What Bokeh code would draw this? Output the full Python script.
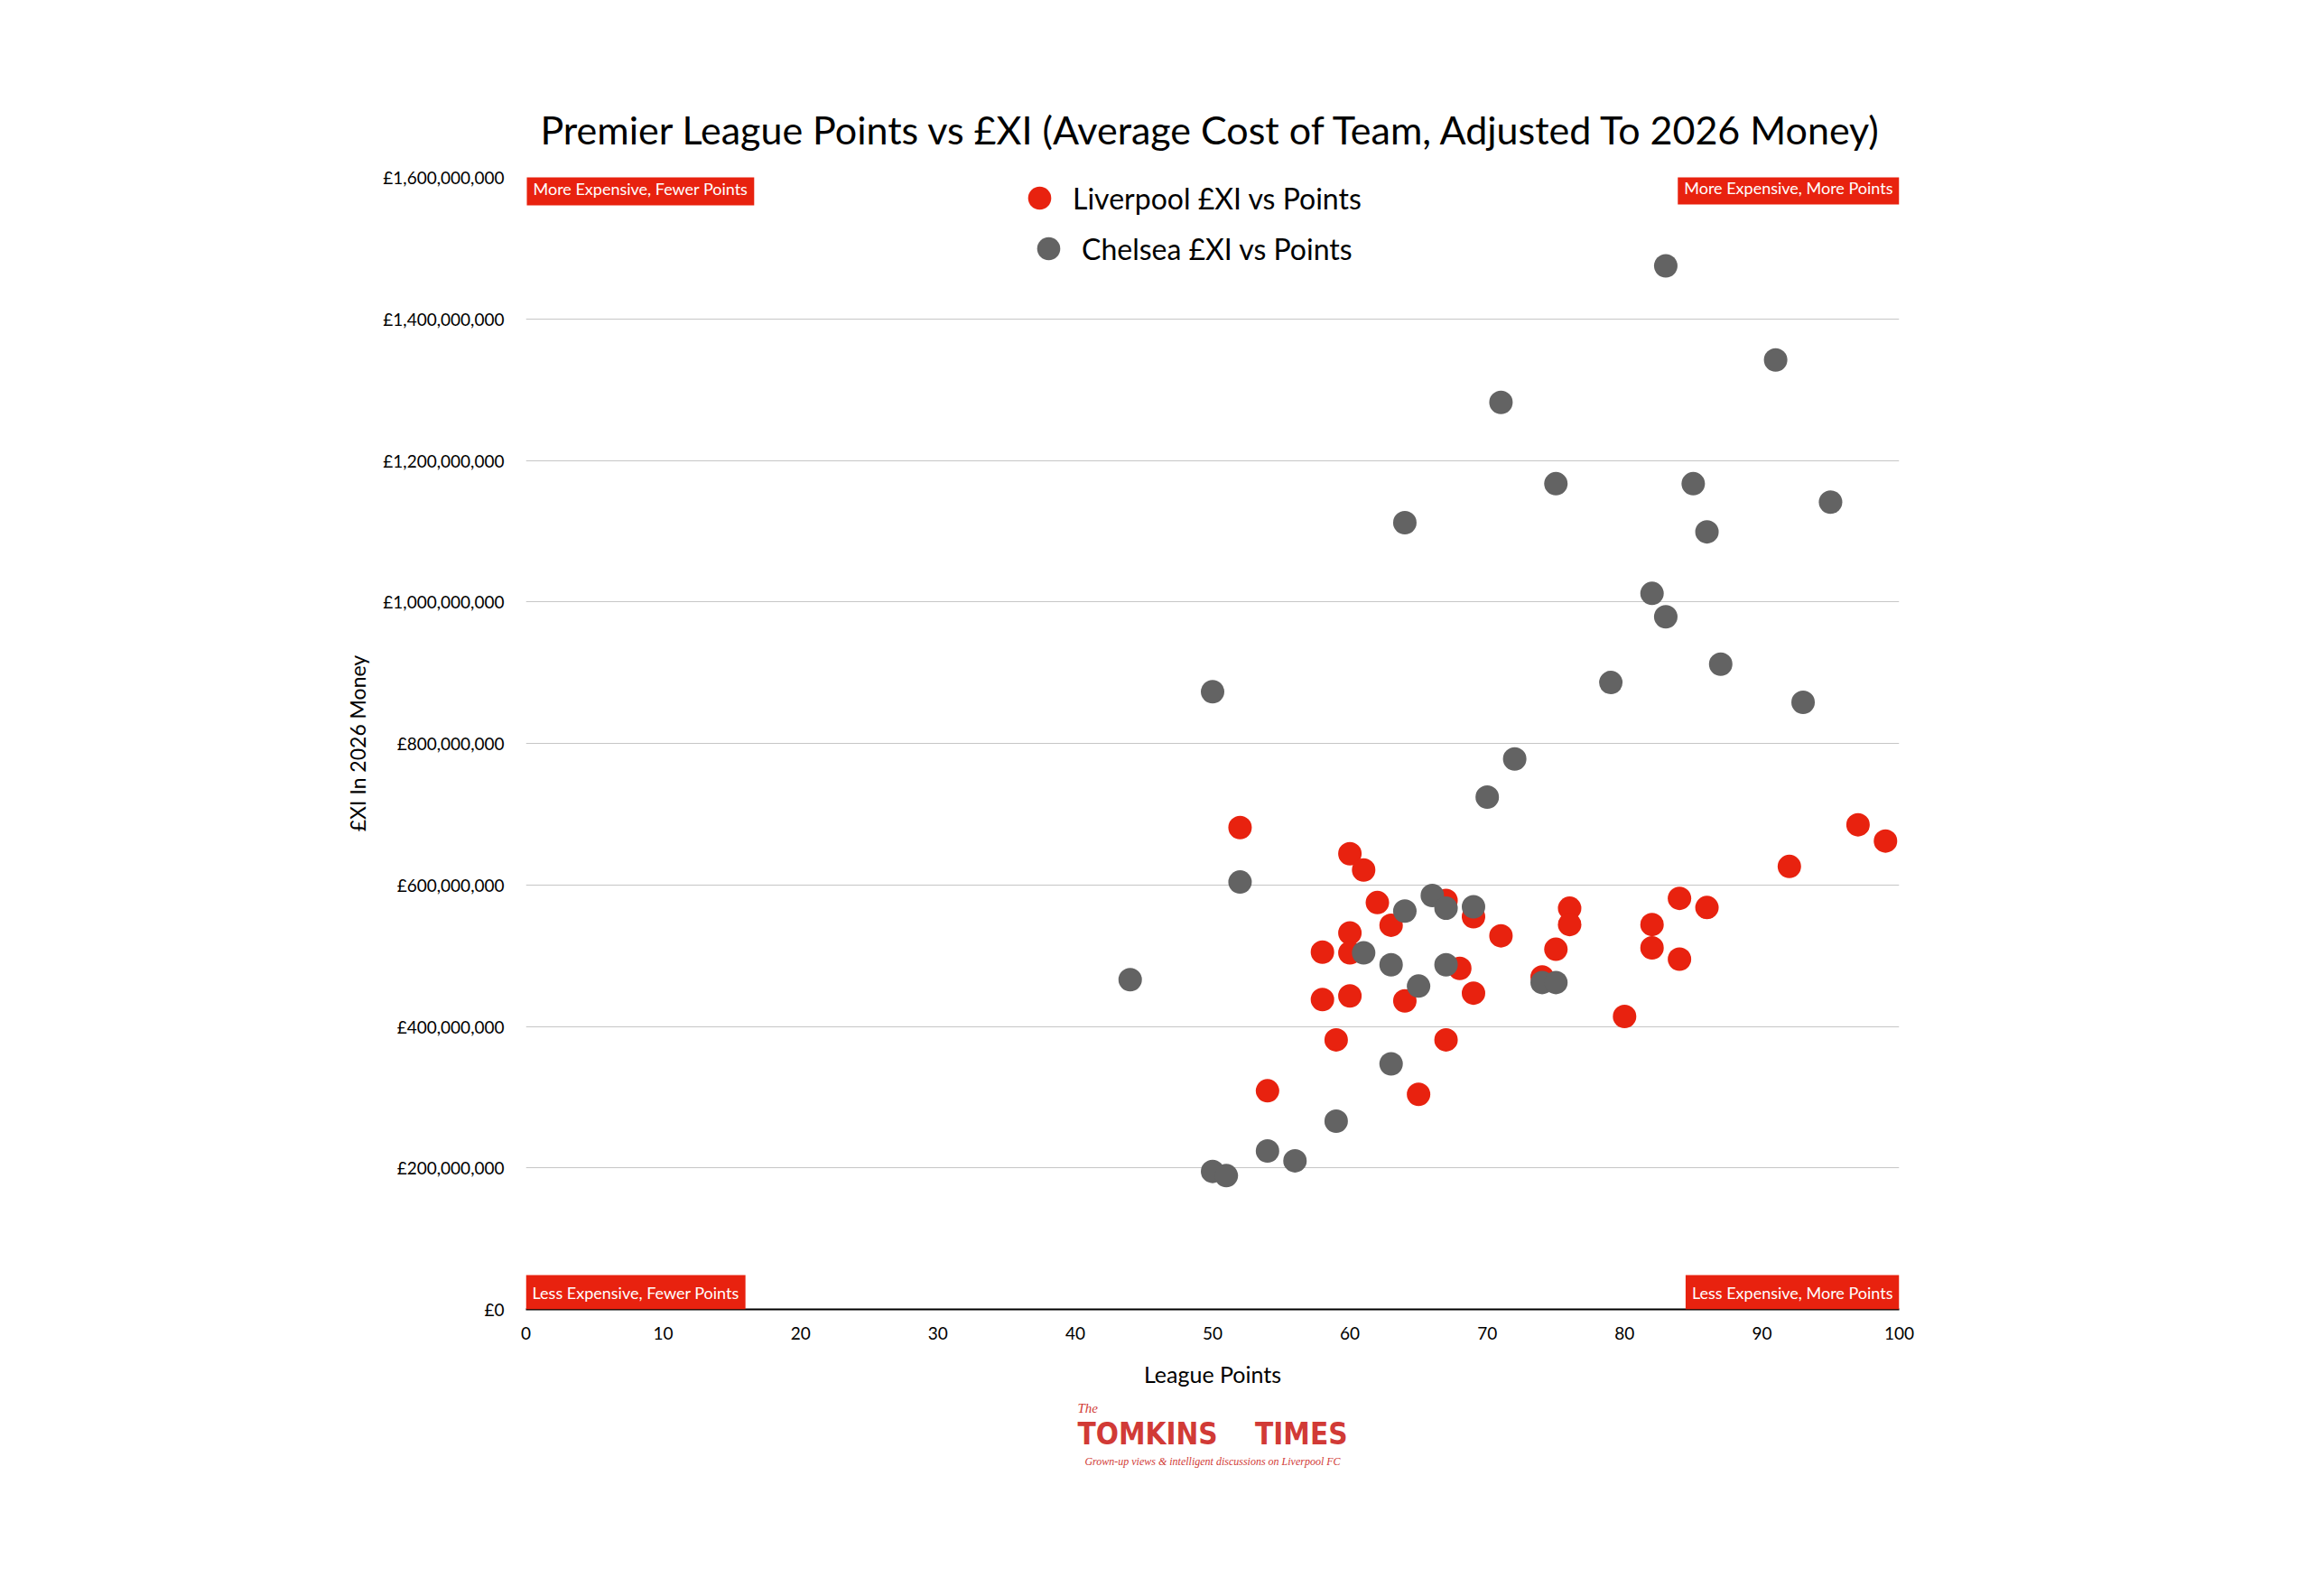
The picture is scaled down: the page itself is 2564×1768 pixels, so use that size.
from bokeh.plotting import figure
from bokeh.models import Label, Legend, LegendItem, Title, ColumnDataSource
from bokeh.embed import file_html
from bokeh.resources import INLINE

# ---------------- data ----------------
TITLE = "Premier League Points vs £XI (Average Cost of Team, Adjusted To 2026 Money)"
X_LABEL = "League Points"
Y_LABEL = "£XI In 2026 Money"

liv_name = "Liverpool £XI vs Points"
liv_points = [52, 60, 61, 62, 63, 60, 58, 60, 58, 60, 64, 59, 54, 65, 67, 67, 69,
              71, 68, 69, 74, 75, 76, 76, 82, 82, 84, 84, 86, 80, 92, 97, 99]
liv_cost_m = [681, 644, 621, 575, 543, 532, 505, 504, 438, 443, 436, 381, 309, 304, 381, 578, 555,
              528, 482, 447, 470, 509, 567, 544, 544, 511, 581, 495, 568, 414, 626, 685, 662]

che_name = "Chelsea £XI vs Points"
che_points = [44, 50, 51, 52, 54, 56, 59, 61, 63, 63, 64, 64, 65, 66, 67, 67, 69,
              70, 71, 72, 74, 75, 75, 79, 82, 83, 83, 85, 86, 87, 91, 93, 95, 50]
che_cost_m = [466, 195, 189, 604, 224, 210, 266, 504, 487, 347, 563, 1112, 457, 585, 567, 487, 569,
              724, 1282, 778, 462, 462, 1167, 886, 1012, 979, 1475, 1167, 1099, 912, 1342, 858, 1141, 873]

x_ticks = [0, 10, 20, 30, 40, 50, 60, 70, 80, 90, 100]
y_ticks = [0, 200000000, 400000000, 600000000, 800000000,
           1000000000, 1200000000, 1400000000, 1600000000]

corner_texts = ["More Expensive, Fewer Points", "More Expensive, More Points",
                "Less Expensive, Fewer Points", "Less Expensive, More Points"]

logo_the = "The"
logo_name = "TOMKINS\u00a0\u00a0\u00a0\u00a0TIMES"
logo_tagline = "Grown-up views & intelligent discussions on Liverpool FC"

# ---------------- style ----------------
RED = "#E8220F"
GREY = "#636363"
LOGO_RED = "#D13A36"
FONT = "Lato"

p = figure(width=2548, height=1750, output_backend="svg", toolbar_location=None,
           x_range=(x_ticks[0], x_ticks[-1]), y_range=(y_ticks[0], y_ticks[-1]),
           min_border_left=582, min_border_right=445, min_border_top=196, min_border_bottom=300,
           title=TITLE)

p.title.text_font = FONT
p.title.text_font_size = "43px"
p.title.text_font_style = "normal"
p.title.text_color = "black"
p.title.align = "center"
p.title.standoff = 55
p.outline_line_color = None
p.background_fill_color = "white"
p.border_fill_color = "white"

p.xgrid.grid_line_color = None
p.ygrid.grid_line_color = "#c6c6c6"
p.ygrid.grid_line_width = 1

p.xaxis.ticker = x_ticks
p.yaxis.ticker = y_ticks
p.yaxis.major_label_overrides = {t: "£{:,}".format(t) for t in y_ticks}

for ax in (p.xaxis[0], p.yaxis[0]):
    ax.major_tick_line_color = None
    ax.minor_tick_line_color = None
    ax.major_label_text_font = FONT
    ax.major_label_text_font_size = "19px"
    ax.major_label_text_color = "black"
    ax.axis_label_text_font = FONT
    ax.axis_label_text_font_style = "normal"
    ax.axis_label_text_color = "black"

p.xaxis.major_label_standoff = 13
p.yaxis.major_label_standoff = 18

p.xaxis.axis_label = X_LABEL
p.xaxis.axis_label_text_font_size = "25px"
p.xaxis.axis_label_standoff = 20
p.xaxis.axis_line_color = "black"
p.xaxis.axis_line_width = 2

p.yaxis.axis_label = Y_LABEL
p.yaxis.axis_label_text_font_size = "23px"
p.yaxis.axis_label_standoff = 11
p.yaxis.axis_line_color = None

src_l = ColumnDataSource(dict(x=liv_points, y=[v * 1e6 for v in liv_cost_m]))
src_c = ColumnDataSource(dict(x=che_points, y=[v * 1e6 for v in che_cost_m]))
r_l = p.scatter("x", "y", source=src_l, size=26, fill_color=RED, line_color=None)
r_c = p.scatter("x", "y", source=src_c, size=26, fill_color=GREY, line_color=None)

# two single-item legends so each line can be centred like the reference
legend_specs = [(liv_name, r_l, (537, 1199)), (che_name, r_c, (547, 1143))]
for name, rend, loc in legend_specs:
    lg = Legend(items=[LegendItem(label=name, renderers=[rend])],
                location=loc, orientation="vertical",
                border_line_color=None, background_fill_alpha=0,
                label_text_font=FONT, label_text_font_size="32px",
                label_text_color="black",
                glyph_width=64, glyph_height=64,
                padding=0, margin=0, label_standoff=5)
    p.add_layout(lg)

corner_specs = [
    dict(x=x_ticks[0], y=y_ticks[-1], text_align="left", text_baseline="top", x_offset=1, y_offset=7),
    dict(x=x_ticks[-1], y=y_ticks[-1], text_align="right", text_baseline="top", x_offset=0, y_offset=8),
    dict(x=x_ticks[0], y=y_ticks[0], text_align="left", text_baseline="bottom", x_offset=0, y_offset=0),
    dict(x=x_ticks[-1], y=y_ticks[0], text_align="right", text_baseline="bottom", x_offset=0, y_offset=0),
]
for txt, spec in zip(corner_texts, corner_specs):
    p.add_layout(Label(text=txt, text_color="white", text_font=FONT, text_font_size="18px",
                       background_fill_color=RED, background_fill_alpha=1.0,
                       padding=dict(left=7, right=7, top=8, bottom=8), **spec))

t_the = Title(text=logo_the, align="left", offset=611, text_font="Liberation Serif",
              text_font_style="italic", text_font_size="15px", text_color=LOGO_RED, standoff=21)
p.add_layout(t_the, "below")
t_name = Title(text=logo_name, align="center", offset=-18,
               text_font="DejaVu Sans Condensed",
               text_font_style="bold", text_font_size="33px", text_color=LOGO_RED, standoff=-24)
p.add_layout(t_name, "below")
t_tag = Title(text=logo_tagline, align="center", offset=3, text_font="Liberation Serif",
              text_font_style="italic", text_font_size="12px", text_color=LOGO_RED, standoff=28)
p.add_layout(t_tag, "below")

open("out.html", "w").write(file_html(p, INLINE))
